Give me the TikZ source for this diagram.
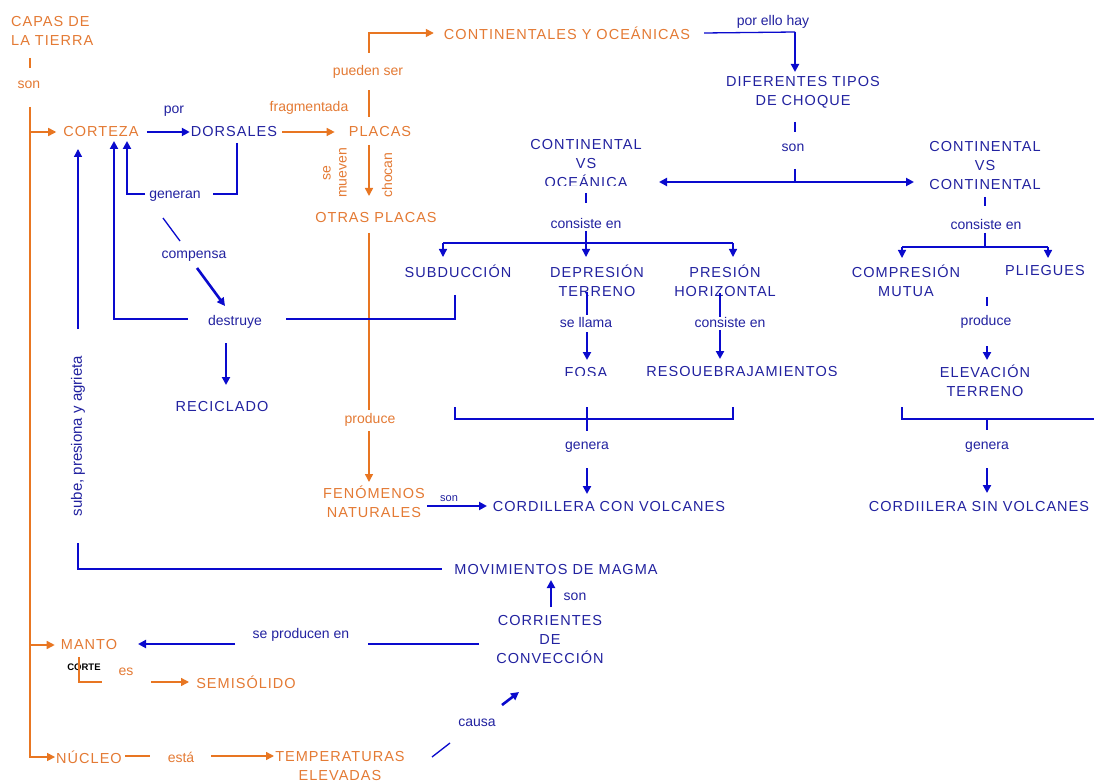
\documentclass[tikz,border=0pt]{standalone}
\usepackage{fontspec}
\setmainfont{Liberation Sans}
\newfontfamily\spacedfont[LetterSpace=7]{Liberation Sans}
\usetikzlibrary{arrows.meta}
\definecolor{orangeline}{RGB}{232,118,34}
\definecolor{orangetext}{RGB}{228,122,52}
\definecolor{blueline}{RGB}{10,10,205}
\definecolor{bluetext}{RGB}{34,34,160}
\begin{document}
\begin{tikzpicture}[x=1pt, y=-1pt,
  concept/.style={inner sep=0pt, font=\spacedfont\fontsize{14.5}{19}\selectfont, align=center},
  oc/.style={concept, text=orangetext},
  bc/.style={concept, text=bluetext},
  lab/.style={inner sep=0pt, font=\fontsize{14}{16}\selectfont, align=center},
  ol/.style={lab, text=orangetext},
  bl/.style={lab, text=bluetext},
  oline/.style={draw=orangeline, line width=1.5pt},
  bline/.style={draw=blueline, line width=1.3pt},
  bmid/.style={draw=blueline, line width=2pt},
  bthick/.style={draw=blueline, line width=2.6pt},
  arr/.style={-{Triangle[length=8pt,width=8pt]}},
  arrs/.style={{Triangle[length=8pt,width=8pt]}-{Triangle[length=8pt,width=8pt]}}
]
\fill[white] (0,0) rectangle (1094,783);
\useasboundingbox (0,0) rectangle (1094,783);

% ---------- concepts ----------
\node[oc, anchor=west, align=left] (capas) at (11,31) {CAPAS DE\\LA TIERRA};
\node[oc] (corteza) at (101,132) {CORTEZA};
\node[bc] (dorsales) at (234,132) {DORSALES};
\node[oc] (placas) at (380,132) {PLACAS};
\node[oc] (conti) at (567,33) {CONTINENTALES Y OCEÁNICAS};
\node[bc] (dif) at (803,92) {DIFERENTES TIPOS\\DE CHOQUE};
\begin{scope}
  \clip (500,130) rectangle (680,185.5);
  \node[bc] (cvo) at (586,164) {CONTINENTAL\\VS\\OCEÁNICA};
\end{scope}
\node[bc] (cvc) at (985,166) {CONTINENTAL\\VS\\CONTINENTAL};
\node[oc] (otras) at (376,218) {OTRAS PLACAS};
\node[bc] (subd) at (458,271) {SUBDUCCIÓN};
\node[bc] (depr) at (597,281) {DEPRESIÓN\\TERRENO};
\node[bc] (presion) at (725,281) {PRESIÓN\\HORIZONTAL};
\node[bc] (compr) at (906,281) {COMPRESIÓN\\MUTUA};
\node[bc] (pliegues) at (1045,271) {PLIEGUES};
\begin{scope}
  \clip (540,360) rectangle (860,375.5);
  \node[bc] (fosa) at (586,373) {FOSA};
  \node[bc] (resq) at (742,373) {RESQUEBRAJAMIENTOS};
\end{scope}
\node[bc] (elev) at (985,381) {ELEVACIÓN\\TERRENO};
\node[bc] (recic) at (222,407) {RECICLADO};
\node[oc] (fen) at (374,502) {FENÓMENOS\\NATURALES};
\node[bc] (cconv) at (609,507) {CORDILLERA CON VOLCANES};
\node[bc] (csin) at (979,507) {CORDIILERA SIN VOLCANES};
\node[bc] (mov) at (556,570) {MOVIMIENTOS DE MAGMA};
\node[bc] (corr) at (550,640) {CORRIENTES\\DE\\CONVECCIÓN};
\node[oc] (manto) at (89,645) {MANTO};
\node[oc] (semi) at (246,682) {SEMISÓLIDO};
\node[oc] (nucleo) at (89,757) {NÚCLEO};
\node[oc] (temp) at (340,766) {TEMPERATURAS\\ELEVADAS};

% ---------- linking words ----------
\node[ol] (son1) at (29,85) {son};
\node[bl] (por) at (174,111) {por};
\node[ol] (frag) at (309,108) {fragmentada};
\node[ol] (pueden) at (368,72) {pueden ser};
\node[bl] (porello) at (773,22) {por ello hay};
\node[bl] (son2) at (793,148) {son};
\node[bl] (cons1) at (586,223) {consiste en};
\node[bl] (cons2) at (986,224) {consiste en};
\node[bl] (generan) at (175,196) {generan};
\node[bl] (compensa) at (194,256) {compensa};
\node[bl] (destruye) at (235,322) {destruye};
\node[ol, rotate=90] (semueven) at (335,173) {se\\mueven};
\node[ol, rotate=90] (chocan) at (387,175) {chocan};
\node[ol] (produce1) at (370,420) {produce};
\node[bl] (sellama) at (586,322) {se llama};
\node[bl] (cons3) at (730,322) {consiste en};
\node[bl] (produce2) at (986,322) {produce};
\node[bl] (genera1) at (587,447) {genera};
\node[bl] (genera2) at (987,447) {genera};
\node[bl, font=\fontsize{11}{12}\selectfont] (son3) at (449,499) {son};
\node[bl, rotate=90, font=\fontsize{15}{16}\selectfont] (sube) at (78,436) {sube, presiona y agrieta};
\node[bl] (son4) at (575,597) {son};
\node[bl] (seprod) at (301,635) {se producen en};
\node[ol] (es) at (126,672) {es};
\node[ol] (esta) at (181,757) {está};
\node[bl] (causa) at (477,723) {causa};
\node[inner sep=0pt, font=\fontsize{9.5}{10}\bfseries\selectfont] (corte) at (84,667) {CORTE};

% ---------- orange links ----------
\coordinate (trunk) at (30,107);
\draw[oline] (30,58) -- (30,68);
\draw[oline, arr] (trunk) |- ([xshift=-1pt]nucleo.west);
\draw[oline, arr] (trunk |- corteza) -- ([xshift=-7pt]corteza.west);
\draw[oline, arr] (trunk |- manto) -- ([xshift=-6pt]manto.west);
\draw[oline, arr] ([xshift=5pt]dorsales.east) -- ([xshift=-14pt]placas.west);
\draw[oline] (369,117) -- (369,90);
\draw[oline, arr] (369,53) |- ([xshift=-10pt]conti.west);
\draw[oline, arr] (369,145) -- (369,196);
\draw[oline] (369,233) -- (369,410);
\draw[oline, arr] (369,431) -- (369,482);
\draw[oline] (79,657) |- (102,682);
\draw[oline, arr] (151,682) -- (189,682);
\draw[oline] (125,756) -- (150,756);
\draw[oline, arr] (211,756) -- (274,756);

% ---------- blue links ----------
\draw[bthick, arr] ([xshift=8pt]corteza.east) -- ([xshift=-1pt]dorsales.west);
\draw[bline] ([xshift=14pt]conti.east) -- (795,32);
\draw[bthick, arr] (795,32) -- (795,72);
\draw[bline] (795,122) -- (795,132);
\draw[bline] (795,169) -- (795,182);
\draw[bthick, arrs] (659,182) -- (914,182);

\draw[bline] (586,193) -- (586,203);
\draw[bline] (586,231) -- (586,243);
\draw[bline] (443,243) -- (733,243);
\foreach \x in {443,586,733} \draw[bline, arr] (\x,243) -- (\x,257);

\draw[bline] (985,197) -- (985,206);
\draw[bline] (985,233) -- (985,247);
\draw[bline] (902,247) -- (1048,247);
\foreach \x in {902,1048} \draw[bline, arr] (\x,247) -- (\x,258);

\draw[bline] (237,143) |- (213,194);
\draw[bmid, arr] (145,194) -| (127,141);
\draw[bline] (163,218) -- (180,241);
\draw[bthick, arr] (197,268) -- (225,306);
\draw[bline] (455,295) |- (286,319);
\draw[bmid, arr] (188,319) -| (114,141);
\draw[bthick, arr] (226,343) -- (226,385);

\draw[bline] (587,292) -- (587,315);
\draw[bmid, arr] (587,332) -- (587,360);
\draw[bline] (720,293) -- (720,317);
\draw[bthick, arr] (720,330) -- (720,359);
\draw[bline] (987,297) -- (987,306);
\draw[bthick, arr] (987,346) -- (987,360);

\draw[bline] (455,407) |- (733,419) -- (733,407);
\draw[bline] (587,407) -- (587,431);
\draw[bthick, arr] (587,468) -- (587,494);
\draw[bline] (902,407) |- (1094,419);
\draw[bthick] (987,419) -- (987,430);
\draw[bthick, arr] (987,468) -- (987,493);

\draw[bthick, arr] (427,506) -- (487,506);
\draw[bline, arr] (78,329) -- (78,149);
\draw[bline] (78,543) |- (442,569);
\draw[bthick, arr] (551,607) -- (551,580);
\draw[bthick] (479,644) -- (368,644);
\draw[bthick, arr] (235,644) -- (138,644);
\draw[bline] (432,757) -- (450,743);
\draw[bthick, arr] (502,705) -- (519,692);
\end{tikzpicture}
\end{document}
